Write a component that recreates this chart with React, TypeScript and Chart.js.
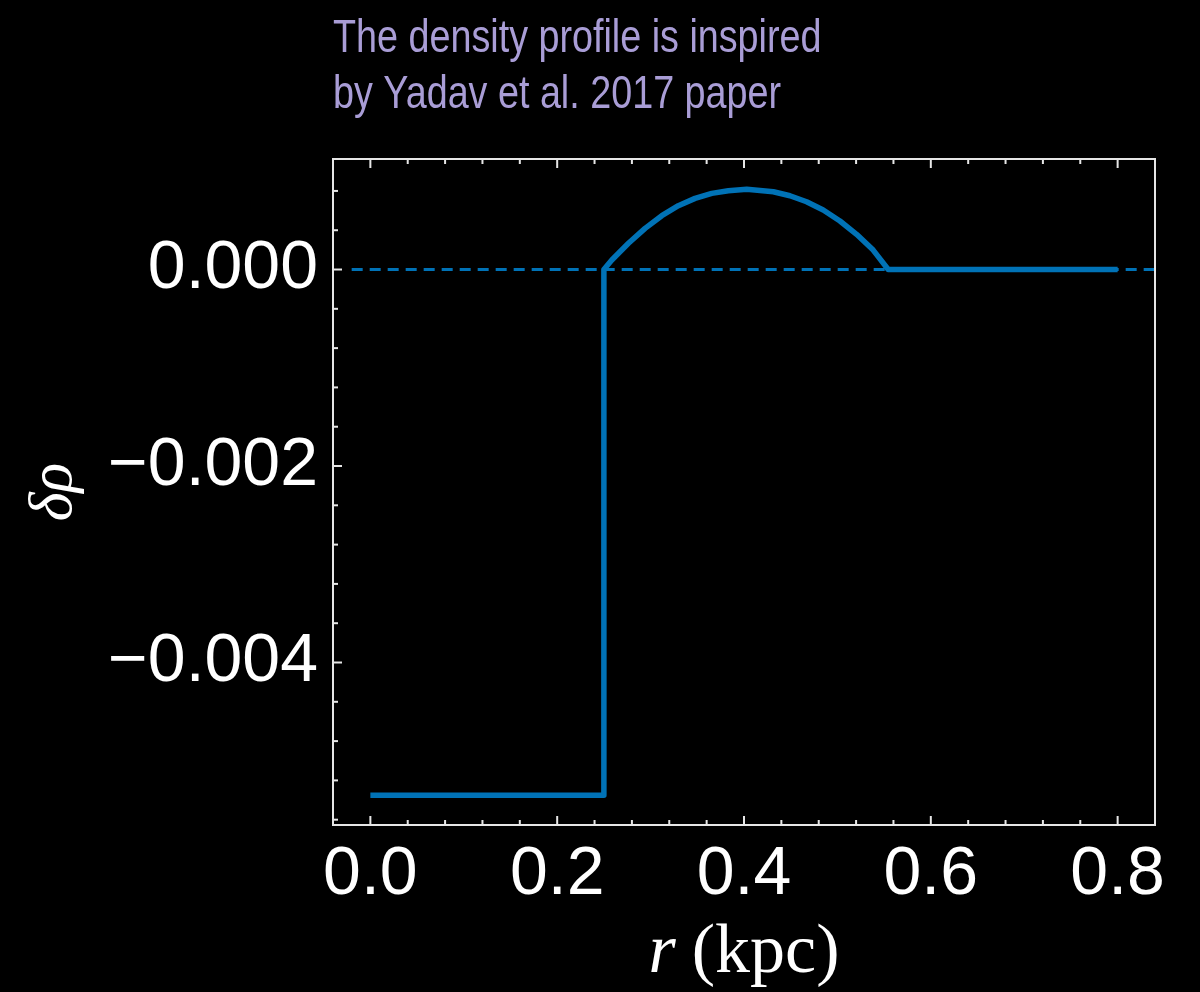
import React, { useEffect, useRef } from "react";
import { Chart, registerables } from "chart.js";

Chart.register(...registerables);

// ---- data ----
const rValues = [0, 0.25, 0.25, 0.2585, 0.2763, 0.2941, 0.312, 0.3297, 0.3476, 0.3655, 0.3832, 0.403, 0.4314, 0.4492, 0.467, 0.4848, 0.5027, 0.5205, 0.5383, 0.5544, 0.8];
const deltaRhoValues = [-0.00535, -0.00535, 0, 0.000097, 0.000267, 0.000419, 0.000548, 0.00065, 0.000724, 0.000775, 0.000802, 0.000816, 0.000792, 0.000751, 0.00069, 0.000606, 0.000494, 0.000358, 0.000198, 0, 0];
const refLineR = [-0.02, 0.84];
const refLineValues = [0, 0];

const xTickValues = [0, 0.2, 0.4, 0.6, 0.8];
const xTickLabels = ["0.0", "0.2", "0.4", "0.6", "0.8"];
const yTickValues = [0, -0.002, -0.004];
const yTickLabels = ["0.000", "\u22120.002", "\u22120.004"];
const xMinorStep = 0.04;
const yMinorStep = 0.0004;

const titleLines = ["The density profile is inspired", "by Yadav et al. 2017 paper"];
const yAxisTitle = "\u03B4\u03C1";
const xAxisTitleVar = "r";
const xAxisTitleUnit = "(kpc)";

const LINE_COLOR = "#0072b6";
const FRAME_COLOR = "#e6e6e6";
const TITLE_COLOR = "#a99dd6";

const decorPlugin = {
  id: "decor",
  beforeDraw(chart: any) {
    const ctx = chart.ctx;
    ctx.save();
    ctx.fillStyle = "#000";
    ctx.fillRect(0, 0, chart.width, chart.height);
    ctx.restore();
  },
  afterDraw(chart: any) {
    const ctx = chart.ctx;
    const { left, right, top, bottom } = chart.chartArea;
    const xs = chart.scales.x;
    const ys = chart.scales.y;

    ctx.save();
    // frame
    ctx.strokeStyle = FRAME_COLOR;
    ctx.lineWidth = 2;
    ctx.strokeRect(left, top, right - left, bottom - top);

    const isMajor = (v: number, majors: number[], eps: number) => majors.some((m) => Math.abs(m - v) < eps);
    // x ticks (bottom & top)
    for (let i = Math.ceil(xs.min / xMinorStep); i * xMinorStep <= xs.max + 1e-9; i++) {
      const v = i * xMinorStep;
      const px = xs.getPixelForValue(v);
      if (px <= left + 1 || px >= right - 1) continue;
      const len = isMajor(v, xTickValues, 1e-6) ? 9 : 5;
      ctx.beginPath();
      ctx.moveTo(px, bottom);
      ctx.lineTo(px, bottom - len);
      ctx.moveTo(px, top);
      ctx.lineTo(px, top + len);
      ctx.stroke();
    }
    // y ticks (left)
    for (let i = Math.ceil(ys.min / yMinorStep); i * yMinorStep <= ys.max + 1e-12; i++) {
      const v = i * yMinorStep;
      const py = ys.getPixelForValue(v);
      if (py <= top + 1 || py >= bottom - 1) continue;
      const len = isMajor(v, yTickValues, 1e-9) ? 9 : 5;
      ctx.beginPath();
      ctx.moveTo(left, py);
      ctx.lineTo(left + len, py);
      ctx.stroke();
    }

    // title (narrow sans)
    ctx.fillStyle = TITLE_COLOR;
    ctx.textBaseline = "alphabetic";
    ctx.textAlign = "left";
    ctx.font = "46px 'Liberation Sans Narrow', monospace";
    const w1 = ctx.measureText(titleLines[0]).width;
    ctx.font = "46px monospace";
    const w2 = ctx.measureText(titleLines[0]).width;
    const hasNarrow = Math.abs(w1 - w2) > 0.5;
    titleLines.forEach((line, i) => {
      ctx.save();
      ctx.translate(left, 52 + i * 56);
      if (hasNarrow) {
        ctx.font = "46px 'Liberation Sans Narrow'";
      } else {
        ctx.font = "46px 'Liberation Sans', Arial, sans-serif";
        ctx.scale(0.82, 1);
      }
      ctx.fillText(line, 0, 0);
      ctx.restore();
    });

    // x axis title: italic r + upright (kpc)
    ctx.fillStyle = "#ffffff";
    const italicFont = "italic 70px 'Liberation Serif', serif";
    const uprightFont = "70px 'Liberation Serif', serif";
    ctx.font = italicFont;
    const wr = ctx.measureText(xAxisTitleVar).width;
    ctx.font = uprightFont;
    const wu = ctx.measureText(xAxisTitleUnit).width;
    const gap = 16;
    const total = wr + gap + wu;
    const cx = (left + right) / 2;
    const startX = cx - total / 2;
    ctx.font = italicFont;
    ctx.fillText(xAxisTitleVar, startX, 972);
    ctx.font = uprightFont;
    ctx.fillText(xAxisTitleUnit, startX + wr + gap, 972);
    ctx.restore();
  },
};

export default function App() {
  const canvasRef = useRef<HTMLCanvasElement | null>(null);

  useEffect(() => {
    document.body.style.margin = "0";
    document.body.style.background = "#000";
    const canvas = canvasRef.current;
    if (!canvas) return;

    const mainPoints = rValues.map((r, i) => ({ x: r, y: deltaRhoValues[i] }));
    const refPoints = refLineR.map((r, i) => ({ x: r, y: refLineValues[i] }));

    const tickFont = { family: "'Liberation Sans', Arial, sans-serif", size: 68 };

    const chart = new Chart(canvas, {
      type: "line",
      data: {
        datasets: [
          {
            label: "δρ",
            data: mainPoints,
            borderColor: LINE_COLOR,
            borderWidth: 5.5,
            pointRadius: 0,
            tension: 0,
            fill: false,
            borderJoinStyle: "round",
            borderCapStyle: "butt",
            order: 1,
          },
          {
            label: "zero",
            data: refPoints,
            borderColor: LINE_COLOR,
            borderWidth: 3,
            borderDash: [11, 7],
            pointRadius: 0,
            fill: false,
            order: 2,
          },
        ],
      },
      options: {
        animation: false,
        responsive: false,
        maintainAspectRatio: false,
        layout: { padding: { top: 159, right: 45, left: 0, bottom: 0 } },
        plugins: {
          legend: { display: false },
          tooltip: { enabled: false },
          title: { display: false },
        },
        scales: {
          x: {
            type: "linear",
            min: -0.04,
            max: 0.84,
            grid: { display: false, drawTicks: false },
            border: { display: false },
            afterBuildTicks: (s: any) => {
              s.ticks = xTickValues.map((v) => ({ value: v }));
            },
            afterFit: (s: any) => {
              s.height = 167;
            },
            ticks: {
              color: "#ffffff",
              font: tickFont,
              padding: 9,
              maxRotation: 0,
              minRotation: 0,
              autoSkip: false,
              callback: (v: any) => {
                const i = xTickValues.findIndex((t) => Math.abs(t - Number(v)) < 1e-9);
                return i >= 0 ? xTickLabels[i] : "";
              },
            },
          },
          y: {
            type: "linear",
            min: -0.005654,
            max: 0.001125,
            grid: { display: false, drawTicks: false },
            border: { display: false },
            afterBuildTicks: (s: any) => {
              s.ticks = yTickValues.map((v) => ({ value: v }));
            },
            afterFit: (s: any) => {
              s.width = 333;
            },
            ticks: {
              color: "#ffffff",
              font: tickFont,
              padding: 15,
              autoSkip: false,
              callback: (v: any) => {
                const i = yTickValues.findIndex((t) => Math.abs(t - Number(v)) < 1e-12);
                return i >= 0 ? yTickLabels[i] : "";
              },
            },
            title: {
              display: true,
              text: yAxisTitle,
              color: "#ffffff",
              font: { family: "'Liberation Serif', serif", style: "italic", size: 62 },
              padding: { top: 18, bottom: 0 },
            },
          },
        },
      },
      plugins: [decorPlugin],
    } as any);

    return () => chart.destroy();
  }, []);

  return (
    <div style={{ position: "absolute", left: 0, top: 0, width: 1200, height: 992, background: "#000" }}>
      <canvas ref={canvasRef} width={1200} height={992} style={{ display: "block", width: 1200, height: 992 }} />
    </div>
  );
}
